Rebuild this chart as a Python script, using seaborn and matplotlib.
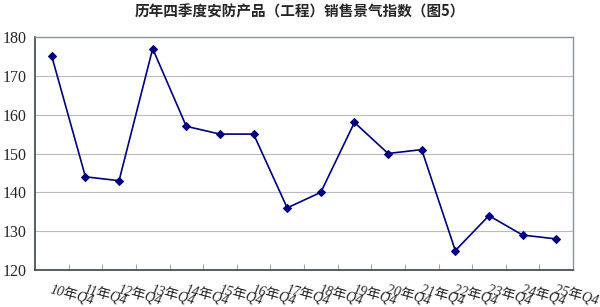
import matplotlib
matplotlib.use("Agg")
import matplotlib.pyplot as plt
import seaborn as sns
import pandas as pd
from matplotlib.ticker import FixedLocator

title = "历年四季度安防产品（工程）销售景气指数（图5）"
years = [f"{y}年Q4" for y in range(10, 26)]
values = [175, 144, 143, 177, 157, 155, 155, 136, 140, 158, 150, 151, 125, 134, 129, 128]

sns.set_theme(style="white")
plt.rcParams['font.family'] = ['Liberation Serif', 'Noto Sans CJK SC', 'DejaVu Sans']

df = pd.DataFrame({"pos": range(len(values)), "val": values})

fig = plt.figure(figsize=(6.0, 3.07), dpi=100)
ax = fig.add_axes([35/600, 37/307, 538/600, 233/307])

sns.lineplot(data=df, x="pos", y="val", ax=ax, color="#000080", linewidth=1.2,
             marker="D", markersize=4, markeredgecolor="#000080", markerfacecolor="#000080")

ax.set_xlim(-0.5, len(values) - 0.5)
ax.set_ylim(120, 180)
ax.set_yticks(range(120, 181, 10))
ax.yaxis.grid(True, color="#b8bcc0", linewidth=0.8)
ax.set_axisbelow(True)

ax.xaxis.set_major_locator(FixedLocator([i - 0.5 for i in range(1, len(values))]))
ax.set_xticklabels([])
ax.tick_params(axis="x", which="major", direction="in", length=4, color="#a0a8b0", width=0.8, bottom=True)
ax.tick_params(axis="y", which="major", length=0, labelsize=11.5, pad=6)
for lbl in ax.get_yticklabels():
    lbl.set_family(['Liberation Serif', 'Noto Sans CJK SC'])

trans = ax.get_xaxis_transform()
for i, t in enumerate(years):
    ax.text(i + 0.02, -0.055, t, transform=trans, ha="left", va="top", rotation=-15,
            rotation_mode="anchor", fontsize=10, style="italic",
            family=['Liberation Serif', 'Noto Sans CJK SC'])

ax.set_xlabel("")
ax.set_ylabel("")

for side in ["top", "right"]:
    ax.spines[side].set_color("#8a9499")
    ax.spines[side].set_linewidth(1.0)
for side in ["left", "bottom"]:
    ax.spines[side].set_color("#3a4448")
    ax.spines[side].set_linewidth(1.2)

fig.text(0.5, 1 - 12/307, title, ha="center", va="center", fontsize=10.5, weight="bold",
         family=['Noto Sans CJK SC', 'DejaVu Sans'])

fig.savefig("out.png", dpi=100, facecolor="white")
